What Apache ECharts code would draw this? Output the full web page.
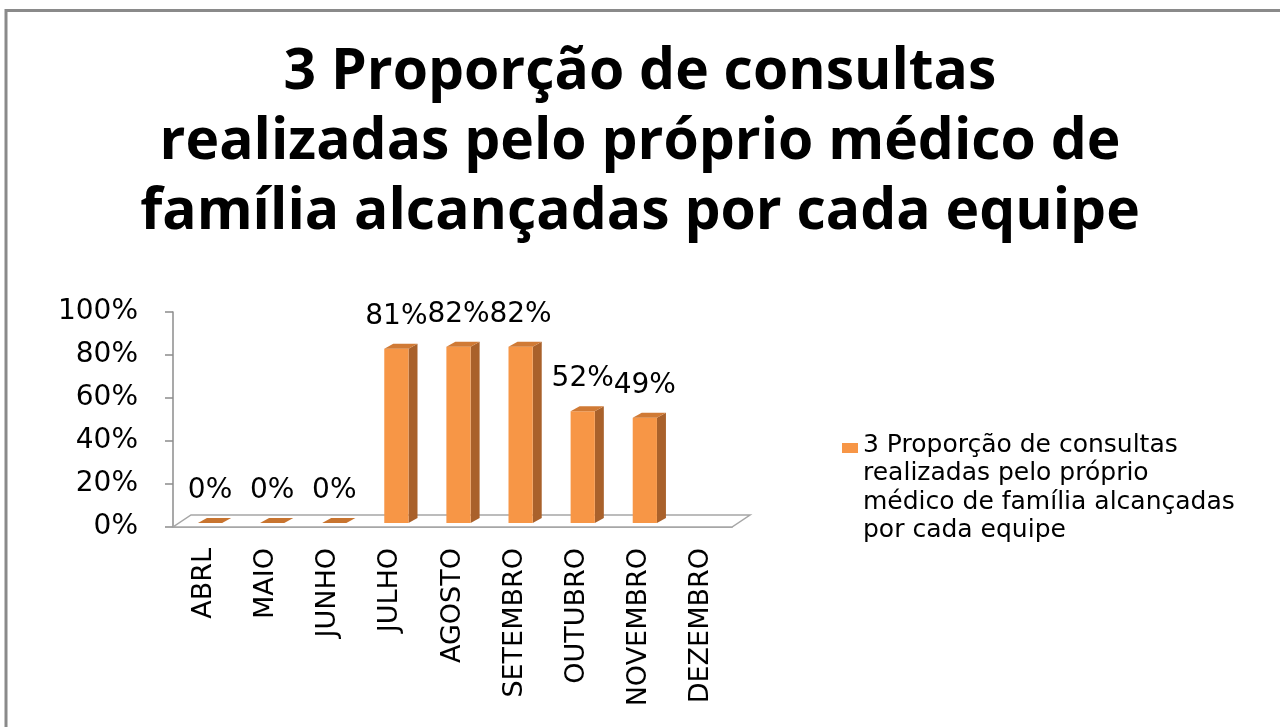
<!DOCTYPE html>
<html>
<head>
<meta charset="utf-8">
<title>3 Proporção de consultas</title>
<script src="https://cdn.jsdelivr.net/npm/echarts@6/dist/echarts.min.js"></script>
<style>
  html, body { margin: 0; padding: 0; background: #fff; }
  #chart { width: 1280px; height: 727px; }
</style>
</head>
<body>
<div id="chart"></div>
<script>
// data
const months = ["ABRL", "MAIO", "JUNHO", "JULHO", "AGOSTO", "SETEMBRO", "OUTUBRO", "NOVEMBRO", "DEZEMBRO"];
const proportion = [0, 0, 0, 81, 82, 82, 52, 49, null]; // % ; dezembro has no value
const seriesName = "3 Proporção de consultas realizadas pelo próprio médico de família alcançadas por cada equipe";
const titleLines = ["3 Proporção de consultas", "realizadas pelo próprio médico de", "família alcançadas por cada equipe"];
const legendLines = ["3 Proporção de consultas", "realizadas pelo próprio", "médico de família alcançadas", "por cada equipe"];

// colours of the excel-like 3d column
const FRONT = "#F79646";
const SIDE = "#A9612B";
const TOP = "#D07A35";
const FLAT = "#C8742F";
const AXIS = "#8C8C8C";

const LEGEND_LINE_H = 28.5;

const chart = echarts.init(document.getElementById("chart"));

// floor of the 3d plot, built from the grid rect
function renderFloor(params, api) {
  const cs = params.coordSys;
  const yb = cs.y + cs.height;
  const dx = 18, dy = -12;
  return {
    type: "polygon",
    shape: {
      points: [[cs.x, yb], [cs.x + cs.width, yb], [cs.x + cs.width + dx, yb + dy], [cs.x + dx, yb + dy]]
    },
    style: { fill: "#fff", stroke: "#A6A6A6", lineWidth: 1.5 }
  };
}

// one 3d column: front face, side face, top face and its label
function renderBar(params, api) {
  const val = api.value(1);
  if (isNaN(val)) return null;
  const bottom = api.coord([api.value(0), 0]);
  const top = api.coord([api.value(0), val]);
  const w = api.size([1, 0])[0] * 0.39;
  const x0 = bottom[0] + 6 - w / 2;
  const x1 = x0 + w;
  const yb = bottom[1] - 4;
  const yt = top[1] - 4;
  const dx = 9, dy = -5;
  const kids = [];
  if (yb - yt > 0.5) {
    kids.push({
      type: "polygon",
      shape: { points: [[x1, yb], [x1 + dx, yb + dy], [x1 + dx, yt + dy], [x1, yt]] },
      style: { fill: SIDE }
    });
    kids.push({
      type: "rect",
      shape: { x: x0, y: yt, width: w, height: yb - yt },
      style: { fill: FRONT }
    });
  }
  kids.push({
    type: "polygon",
    shape: { points: [[x0, yt], [x1, yt], [x1 + dx, yt + dy], [x0 + dx, yt + dy]] },
    style: { fill: val > 0 ? TOP : FLAT }
  });
  kids.push({
    type: "text",
    style: {
      text: val + "%",
      x: x0 + w / 2,
      y: yt - 32,
      align: "center",
      verticalAlign: "middle",
      fontSize: 28,
      fontFamily: "DejaVu Sans",
      fill: "#000"
    }
  });
  return { type: "group", children: kids };
}

// legend marker sits beside the first line of a 4-line label:
// the path spans the whole text height but only fills a small square near the top
const legendH = LEGEND_LINE_H * legendLines.length;
const legendIcon = "path://M0,12H16V22H0Z M0,0L0.01,0 M0," + legendH + "L0.01," + legendH;

const option = {
  backgroundColor: "#fff",
  animation: false,
  graphic: [
    {
      type: "rect",
      shape: { x: 6, y: 10.5, width: 1400, height: 800 },
      style: { fill: "none", stroke: "#8A8A8A", lineWidth: 3 },
      silent: true
    }
  ],
  title: {
    text: titleLines.join("\n"),
    left: "center",
    top: 33,
    textStyle: {
      fontFamily: "Open Sans",
      fontWeight: "bold",
      fontSize: 57,
      lineHeight: 70,
      color: "#000"
    }
  },
  legend: {
    data: [seriesName],
    left: 842,
    top: 431,
    padding: 0,
    icon: legendIcon,
    itemWidth: 16,
    itemHeight: legendH,
    formatter: () => legendLines.join("\n"),
    textStyle: {
      fontFamily: "DejaVu Sans",
      fontSize: 25,
      lineHeight: LEGEND_LINE_H,
      color: "#000"
    }
  },
  grid: { left: 173, top: 312, width: 559, height: 215 },
  xAxis: {
    type: "category",
    data: months,
    axisLine: { lineStyle: { color: AXIS, width: 1.5 } },
    axisTick: { length: 10, lineStyle: { color: AXIS, width: 1.5 } },
    axisLabel: {
      rotate: 90,
      interval: 0,
      margin: 21,
      fontSize: 27,
      fontFamily: "DejaVu Sans",
      color: "#000"
    }
  },
  yAxis: {
    type: "value",
    min: 0,
    max: 100,
    interval: 20,
    splitLine: { show: false },
    axisLine: { show: true, lineStyle: { color: AXIS, width: 1.5 } },
    axisTick: { show: true, length: 8, lineStyle: { color: AXIS, width: 1.5 } },
    axisLabel: {
      formatter: "{value}%",
      margin: 35,
      fontSize: 28,
      fontFamily: "DejaVu Sans",
      color: "#000"
    }
  },
  series: [
    {
      name: "floor",
      type: "custom",
      z: 1,
      silent: true,
      renderItem: renderFloor,
      data: [[0, 0]]
    },
    {
      name: seriesName,
      type: "custom",
      z: 2,
      itemStyle: { color: FRONT },
      renderItem: renderBar,
      encode: { x: 0, y: 1 },
      data: proportion.map((v, i) => [i, v == null ? "-" : v])
    }
  ]
};

chart.setOption(option);
</script>
</body>
</html>
